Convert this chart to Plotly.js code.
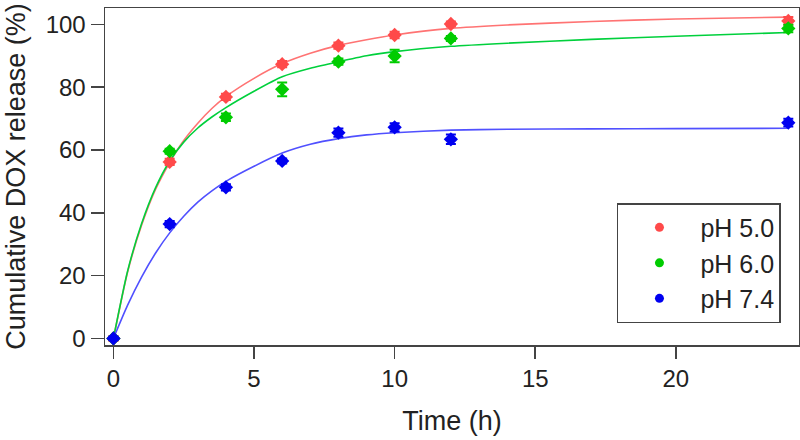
<!DOCTYPE html>
<html>
<head>
<meta charset="utf-8">
<script src="https://cdn.plot.ly/plotly-3.0.1.min.js"></script>
<style>html,body{margin:0;padding:0;background:#fff;}#chart{width:800px;height:440px;}</style>
</head>
<body>
<div id="chart"></div>
<script>
// Measured release data
const time = [0, 2, 4, 6, 8, 10, 12, 24];
const ph50 = [0, 56.2, 76.9, 87.3, 93.2, 96.6, 100.1, 101.1];
const ph50Err = [0.8, 1.0, 1.0, 1.0, 1.0, 1.0, 0.8, 1.2];
const ph60 = [0, 59.6, 70.4, 79.3, 88.1, 89.9, 95.5, 98.7];
const ph60Err = [0.5, 0.8, 1.2, 2.2, 1.0, 2.0, 0.8, 1.2];
const ph74 = [0, 36.4, 48.1, 56.5, 65.5, 67.2, 63.4, 68.7];
const ph74Err = [0.5, 1.0, 1.0, 0.8, 1.3, 1.3, 1.5, 1.2];

// Fitted curves
const fitTime = [0, 0.5, 1, 1.5, 2, 2.5, 3, 3.5, 4, 5, 6, 7, 8, 9, 10, 12, 14, 17, 20, 24];
const fit50 = [0, 21, 36, 47.5, 56, 63, 68.5, 73.2, 77, 82.8, 87.5, 90.8, 93.3, 95.1, 96.6, 98.7, 99.8, 100.9, 101.7, 102.3];
const fit60 = [0, 21.3, 36.5, 48, 56.5, 62.5, 67, 70.5, 73.5, 78.7, 83.3, 86, 88.1, 90, 91.3, 93, 94, 95.2, 96.2, 97.4];
const fit74 = [0, 10.5, 19.5, 27.2, 33.6, 38.9, 43.4, 47, 50, 54.8, 59, 61.8, 63.6, 64.8, 65.5, 66.3, 66.6, 66.7, 66.8, 66.9];

const labels = ['pH 5.0', 'pH 6.0', 'pH 7.4'];
const xTicks = [0, 5, 10, 15, 20];
const yTicks = [0, 20, 40, 60, 80, 100];

const markerCols = ['#ff4a4a', '#00cc00', '#0000f0'];
const lineCols = ['#ff7373', '#00d03c', '#5050ff'];

const fits = [fit50, fit60, fit74];
const vals = [ph50, ph60, ph74];
const errs = [ph50Err, ph60Err, ph74Err];

const traces = [];
for (let i = 0; i < 3; i++) {
  traces.push({
    x: fitTime, y: fits[i], type: 'scatter', mode: 'lines',
    line: {color: lineCols[i], width: 1.6, shape: 'spline', smoothing: 0.6},
    showlegend: false, hoverinfo: 'skip'
  });
}
for (let i = 0; i < 3; i++) {
  traces.push({
    x: time, y: vals[i], type: 'scatter', mode: 'markers',
    marker: {symbol: 'diamond', size: 11, color: markerCols[i]},
    error_y: {type: 'data', array: errs[i], visible: true, color: markerCols[i], thickness: 2, width: 5},
    showlegend: false, name: labels[i]
  });
}
for (let i = 0; i < 3; i++) {
  traces.push({
    x: [null], y: [null], type: 'scatter', mode: 'markers',
    marker: {symbol: 'circle', size: 9, color: markerCols[i]},
    name: labels[i], showlegend: true
  });
}

const layout = {
  width: 800, height: 440,
  margin: {l: 105, r: 1, t: 8, b: 95},
  paper_bgcolor: '#fff', plot_bgcolor: '#fff',
  font: {family: 'Arial, "Liberation Sans", sans-serif', color: '#222'},
  showlegend: true,
  legend: {
    x: 0.974, y: 0.065, xanchor: 'right', yanchor: 'bottom',
    bgcolor: '#fff', bordercolor: '#444', borderwidth: 1.5,
    font: {size: 25, color: '#222'}, itemwidth: 72
  },
  xaxis: {
    range: [-0.3, 24.38], tickvals: xTicks, ticktext: xTicks.map(String),
    showgrid: false, zeroline: false,
    showline: true, mirror: true, linecolor: '#444', linewidth: 1.5,
    ticks: 'outside', ticklen: 12, tickwidth: 1.5, tickcolor: '#444',
    tickfont: {size: 24, color: '#222'},
    title: {text: 'Time (h)', font: {size: 27, color: '#222'}, standoff: 20}
  },
  yaxis: {
    range: [-2.1, 105.2], tickvals: yTicks, ticktext: yTicks.map(String),
    showgrid: false, zeroline: false,
    showline: true, mirror: true, linecolor: '#444', linewidth: 1.5,
    ticks: 'outside', ticklen: 13, tickwidth: 1.5, tickcolor: '#444',
    tickfont: {size: 24, color: '#222'},
    title: {text: 'Cumulative DOX release (%)', font: {size: 27, color: '#222'}, standoff: 12}
  }
};

Plotly.newPlot('chart', traces, layout, {staticPlot: true, displayModeBar: false});
</script>
</body>
</html>
